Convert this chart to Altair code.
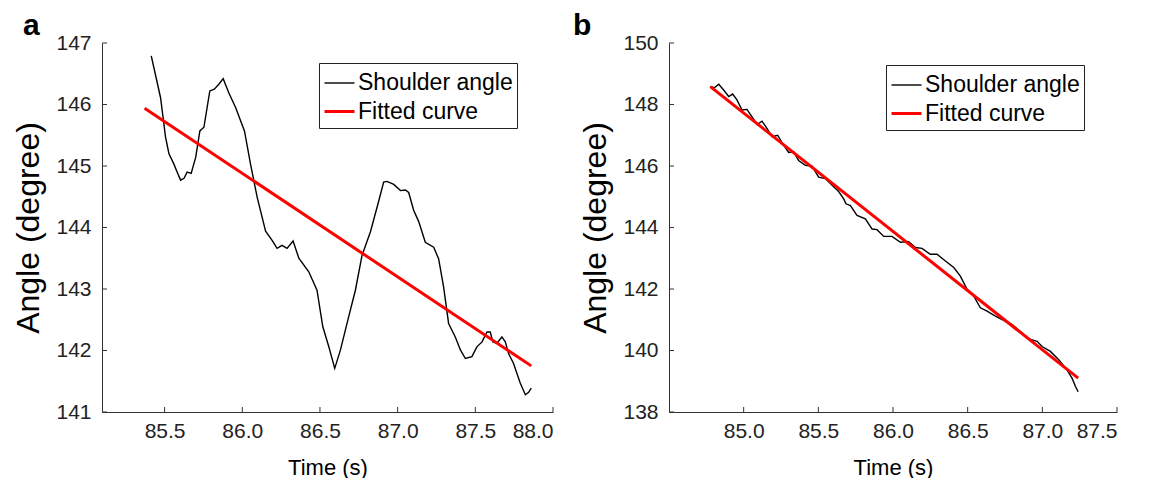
import altair as alt
import pandas as pd

# ---------------- data ----------------
SERIES = ["Shoulder angle", "Fitted curve"]
COLORS = ["#000000", "#ff0000"]
WIDTHS = [1.4, 3.0]

A_TIME = [85.414, 85.474, 85.506, 85.528, 85.560, 85.581, 85.603, 85.625, 85.645, 85.671,
          85.700, 85.727, 85.753, 85.791, 85.820, 85.849, 85.877, 85.913, 85.957, 86.014,
          86.053, 86.096, 86.150, 86.192, 86.224, 86.256, 86.288, 86.327, 86.364, 86.428,
          86.481, 86.518, 86.557, 86.595, 86.632, 86.685, 86.728, 86.771, 86.825, 86.874,
          86.910, 86.932, 86.975, 87.018, 87.050, 87.071, 87.103, 87.135, 87.178, 87.232,
          87.264, 87.296, 87.328, 87.371, 87.404, 87.436, 87.478, 87.510, 87.543, 87.575,
          87.596, 87.613, 87.639, 87.671, 87.693, 87.714, 87.746, 87.789, 87.822, 87.843,
          87.860]
A_ANGLE = [146.79, 146.11, 145.47, 145.20, 145.03, 144.90, 144.77, 144.80, 144.90, 144.88,
           145.14, 145.57, 145.63, 146.22, 146.25, 146.33, 146.42, 146.19, 145.95, 145.57,
           145.03, 144.49, 143.94, 143.79, 143.66, 143.71, 143.66, 143.78, 143.50, 143.28,
           142.98, 142.39, 142.06, 141.71, 142.01, 142.55, 142.98, 143.55, 143.93, 144.39,
           144.74, 144.75, 144.70, 144.60, 144.61, 144.57, 144.28, 144.10, 143.76, 143.68,
           143.49, 143.03, 142.44, 142.22, 142.01, 141.87, 141.90, 142.06, 142.14, 142.30,
           142.30, 142.14, 142.12, 142.22, 142.14, 141.95, 141.79, 141.47, 141.28, 141.32,
           141.39]
A_FIT_TIME = [85.371, 87.860]
A_FIT_ANGLE = [145.94, 141.75]

B_TIME = [84.777, 84.806, 84.833, 84.866, 84.900, 84.926, 84.955, 84.989, 85.022, 85.056,
          85.089, 85.123, 85.156, 85.190, 85.228, 85.261, 85.301, 85.335, 85.368, 85.413,
          85.457, 85.502, 85.547, 85.592, 85.636, 85.670, 85.685, 85.715, 85.759, 85.815,
          85.860, 85.893, 85.938, 85.993, 86.050, 86.105, 86.150, 86.194, 86.250, 86.295,
          86.351, 86.407, 86.451, 86.496, 86.541, 86.585, 86.630, 86.686, 86.741, 86.797,
          86.853, 86.909, 86.965, 86.998, 87.054, 87.110, 87.165, 87.199, 87.222, 87.240]
B_ANGLE = [148.58, 148.55, 148.66, 148.47, 148.26, 148.34, 148.15, 147.82, 147.84, 147.60,
           147.35, 147.46, 147.22, 146.95, 147.00, 146.73, 146.44, 146.46, 146.18, 146.02,
           146.00, 145.64, 145.59, 145.37, 145.17, 144.93, 144.77, 144.71, 144.39, 144.28,
           143.95, 143.93, 143.71, 143.71, 143.52, 143.54, 143.35, 143.32, 143.13, 143.13,
           142.91, 142.70, 142.42, 141.99, 141.77, 141.39, 141.28, 141.12, 140.98, 140.84,
           140.62, 140.38, 140.30, 140.13, 139.97, 139.70, 139.37, 139.10, 138.83, 138.66]
B_FIT_TIME = [84.777, 87.240]
B_FIT_ANGLE = [148.58, 139.10]

A_XTICKS = [85.5, 86.0, 86.5, 87.0, 87.5, 88.0]
A_YTICKS = [141, 142, 143, 144, 145, 146, 147]
B_XTICKS = [85.0, 85.5, 86.0, 86.5, 87.0, 87.5]
B_YTICKS = [138, 140, 142, 144, 146, 148, 150]

A_XDOMAIN = [85.097, 88.0]
A_YDOMAIN = [141, 147]
B_XDOMAIN = [84.5, 87.5]
B_YDOMAIN = [138, 150]

FONT = "Liberation Sans"
H = 369


def panel(label, t, a, ft, fa, xdom, ydom, xt, yt, w, legx, legy, tdx):
    raw = pd.DataFrame({"t": t, "angle": a, "series": SERIES[0]})
    fit = pd.DataFrame({"t": ft, "angle": fa, "series": SERIES[1]})
    xt_df = pd.DataFrame({"t": xt})
    yt_df = pd.DataFrame({"angle": yt})

    x = alt.X("t:Q", scale=alt.Scale(domain=xdom, nice=False, zero=False),
              axis=alt.Axis(values=xt, format=".1f", title="Time (s)"))
    y = alt.Y("angle:Q", scale=alt.Scale(domain=ydom, nice=False, zero=False),
              axis=alt.Axis(values=yt, format="d", title="Angle (degree)"))
    leg = alt.Legend(title=None, orient="none", legendX=legx, legendY=legy,
                     direction="vertical", symbolType="stroke", symbolSize=900,
                     labelFontSize=23, labelFont=FONT, labelColor="#000",
                     strokeColor="#222", fillColor="white", padding=4,
                     rowPadding=0, labelOffset=2, labelLimit=400)
    color = alt.Color("series:N", scale=alt.Scale(domain=SERIES, range=COLORS), legend=leg)
    sw = alt.StrokeWidth("series:O", scale=alt.Scale(domain=SERIES, range=WIDTHS), legend=leg)

    l_raw = alt.Chart(raw).mark_line().encode(x=x, y=y, color=color, strokeWidth=sw)
    l_fit = alt.Chart(fit).mark_line().encode(x=x, y=y, color=color, strokeWidth=sw)
    xticks = alt.Chart(xt_df).mark_rule(color="#333", strokeWidth=1).encode(
        x=x, y=alt.value(H), y2=alt.value(H - 5))
    yticks = alt.Chart(yt_df).mark_rule(color="#333", strokeWidth=1).encode(
        y=y, x=alt.value(0), x2=alt.value(5))

    return alt.layer(l_raw, l_fit, xticks, yticks).properties(
        width=w, height=H,
        title=alt.TitleParams(label, anchor="start", frame="group", fontSize=30,
                              fontWeight="bold", font=FONT, color="#000",
                              dx=tdx, offset=-9),
    )


pa = panel("a", A_TIME, A_ANGLE, A_FIT_TIME, A_FIT_ANGLE, A_XDOMAIN, A_YDOMAIN,
           A_XTICKS, A_YTICKS, 451, 217, 20, -79)
pb = panel("b", B_TIME, B_ANGLE, B_FIT_TIME, B_FIT_ANGLE, B_XDOMAIN, B_YDOMAIN,
           B_XTICKS, B_YTICKS, 448, 217, 22, -96)

chart = alt.hconcat(pa, pb, spacing=116, bounds="flush").resolve_scale(
    color="independent", strokeWidth="independent", x="independent", y="independent"
).resolve_legend(color="independent", strokeWidth="independent").properties(
    padding={"left": 4, "top": 3, "right": 0, "bottom": 0}
).configure_view(stroke=None).configure_axis(
    grid=False, ticks=False, domainColor="#333", domainWidth=1,
    labelFont=FONT, labelFontSize=21, labelColor="#222",
    titleFont=FONT, titleFontWeight="normal", titleColor="#000",
).configure_axisX(titleFontSize=22, titlePadding=16, labelPadding=8).configure_axisY(
    titleFontSize=32, titlePadding=10, labelPadding=11)

chart.save("out.html", embed_options={"renderer": "svg", "actions": False})
